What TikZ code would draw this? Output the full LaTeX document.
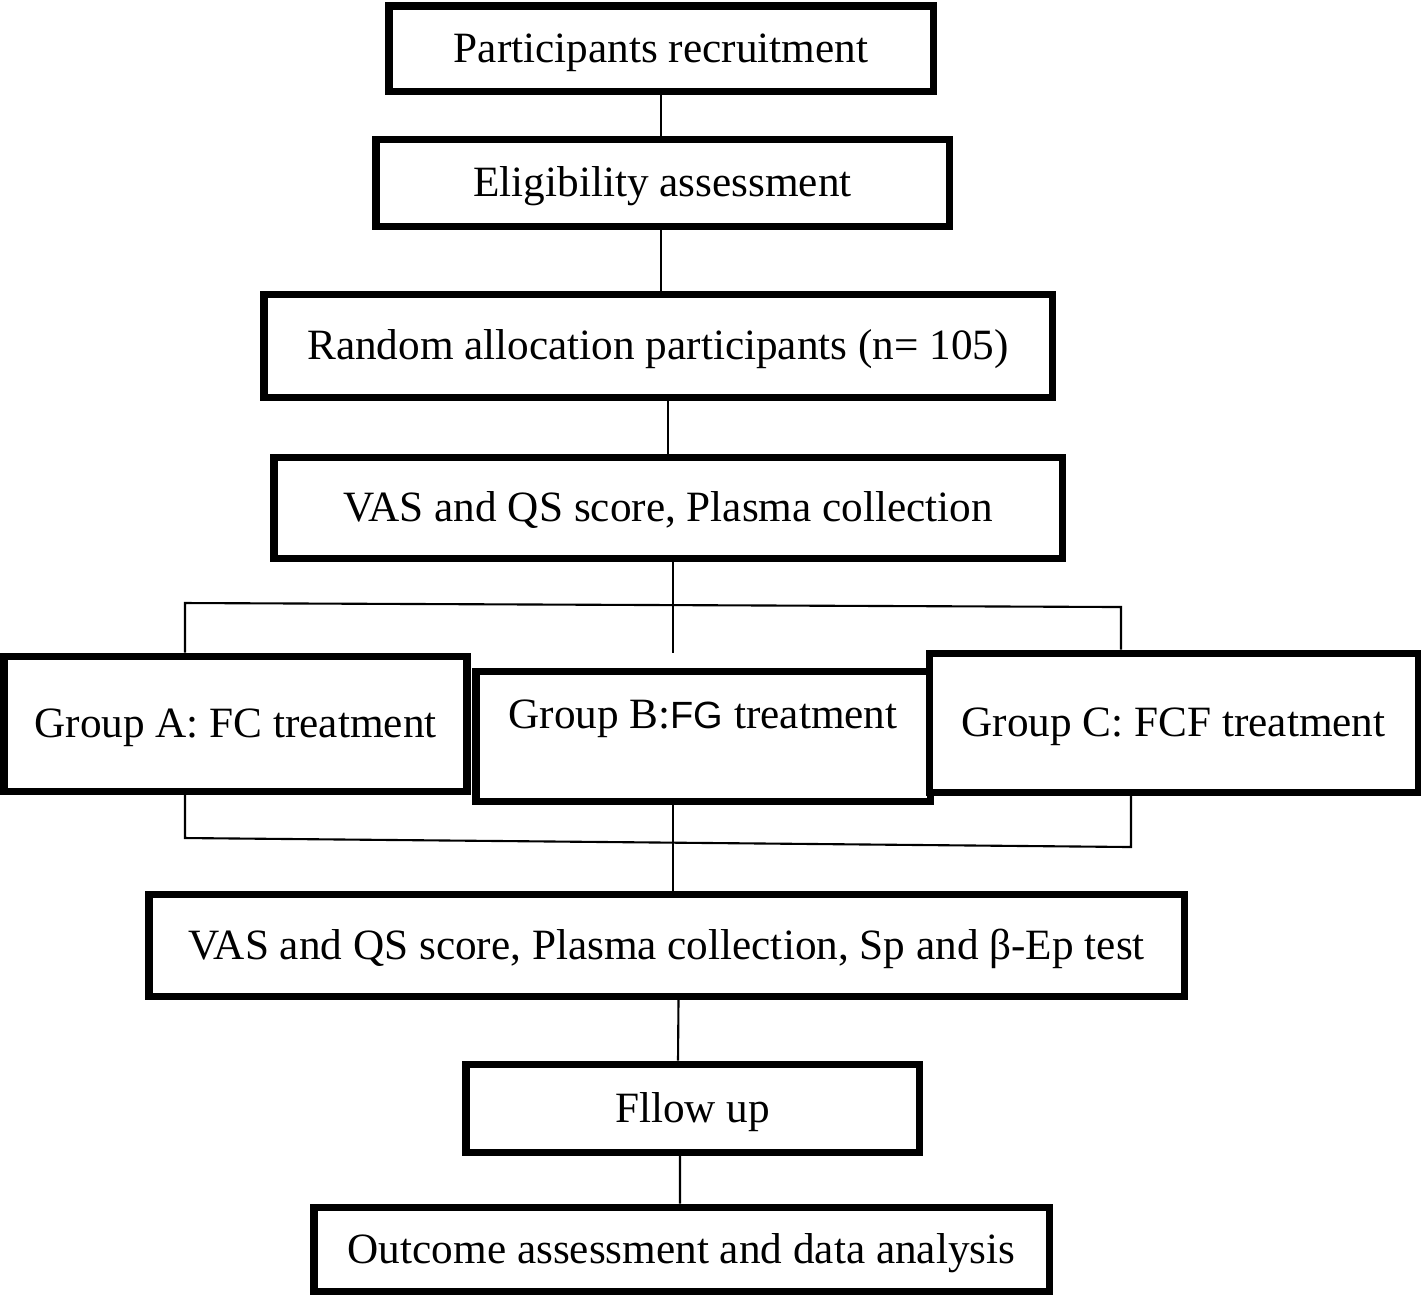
\documentclass[tikz,border=0pt]{standalone}
\usepackage{fontspec}
\setmainfont{Liberation Serif}
\newfontfamily\fgfont{Liberation Sans}
\usepackage{tikz}
\usetikzlibrary{calc}

\begin{document}
\begin{tikzpicture}
	[   sbox/.style={draw=black,line width=2pt,fill=white,inner sep=0pt,
		text height=0.32cm,text depth=0.04cm,
		font=\fontsize{12.3}{14}\selectfont},
	]
	\tikzset{plain line/.style={draw,line width=0.6pt}}
	\useasboundingbox (0,0) rectangle (14.21,-12.95);
	
	\node[sbox,minimum width=5.44cm,minimum height=0.85cm] (recruit) at (6.61,-0.485) {Participants recruitment};
	\node[sbox,minimum width=5.73cm,minimum height=0.87cm] (elig) at (6.625,-1.825) {Eligibility assessment};
	\node[sbox,minimum width=7.88cm,minimum height=1.03cm] (random) at (6.58,-3.455) {Random allocation participants (n= 105)};
	\node[sbox,minimum width=7.88cm,minimum height=1.01cm] (base) at (6.68,-5.075) {VAS and QS score, Plasma collection};
	
	\node[sbox,minimum width=4.63cm,minimum height=1.35cm] (grp-a) at (2.355,-7.235) {Group A: FC treatment};
	\node[sbox,minimum width=4.54cm,minimum height=1.30cm,text height=0.3cm,text depth=0.46cm] (grp-b) at (7.03,-7.36) {Group B:{\fgfont\fontsize{10.8}{13}\selectfont FG} treatment};
	\node[sbox,minimum width=4.89cm,minimum height=1.39cm] (grp-c) at (11.735,-7.225) {Group C: FCF treatment};
	
	\node[sbox,minimum width=10.35cm,minimum height=1.02cm] (post) at (6.665,-9.45) {VAS and QS score, Plasma collection, Sp and β-Ep test};
	\node[sbox,minimum width=4.53cm,minimum height=0.88cm] (follow) at (6.925,-11.08) {Fllow up};
	\node[sbox,minimum width=7.35cm,minimum height=0.84cm] (outcome) at (6.815,-12.49) {Outcome assessment and data analysis};
	
	% split and join brackets
	\coordinate (split-l) at (1.85,-6.03);
	\coordinate (split-r) at (11.21,-6.07);
	\coordinate (split-m) at (6.73,-6.53);
	\coordinate (join-l) at (1.85,-8.38);
	\coordinate (join-r) at (11.31,-8.47);
	
	\path[plain line] (recruit.south) -- (recruit.south |- elig.north);
	\path[plain line] (elig.south -| recruit.south) -- (random.north -| recruit.south);
	\path[plain line] (base.north |- random.south) -- (base.north);
	\path[plain line] ($(base.south)+(0.05,0)$) -- (split-m);
	\path[plain line] (grp-a.north -| split-l) -- (split-l) -- (split-r) -- (grp-c.north -| split-r);
	\path[plain line] (grp-a.south -| join-l) -- (join-l) -- (join-r) -- (grp-c.south -| join-r);
	\path[plain line] (grp-b.south -| split-m) -- (post.north -| split-m);
	\path[plain line] ($(post.south)+(0.12,0)$) -- ($(follow.north)+(-0.145,0)$);
	\path[plain line] ($(follow.south)+(-0.125,0)$) -- ($(outcome.north)+(-0.015,0)$);
\end{tikzpicture}
\end{document}
